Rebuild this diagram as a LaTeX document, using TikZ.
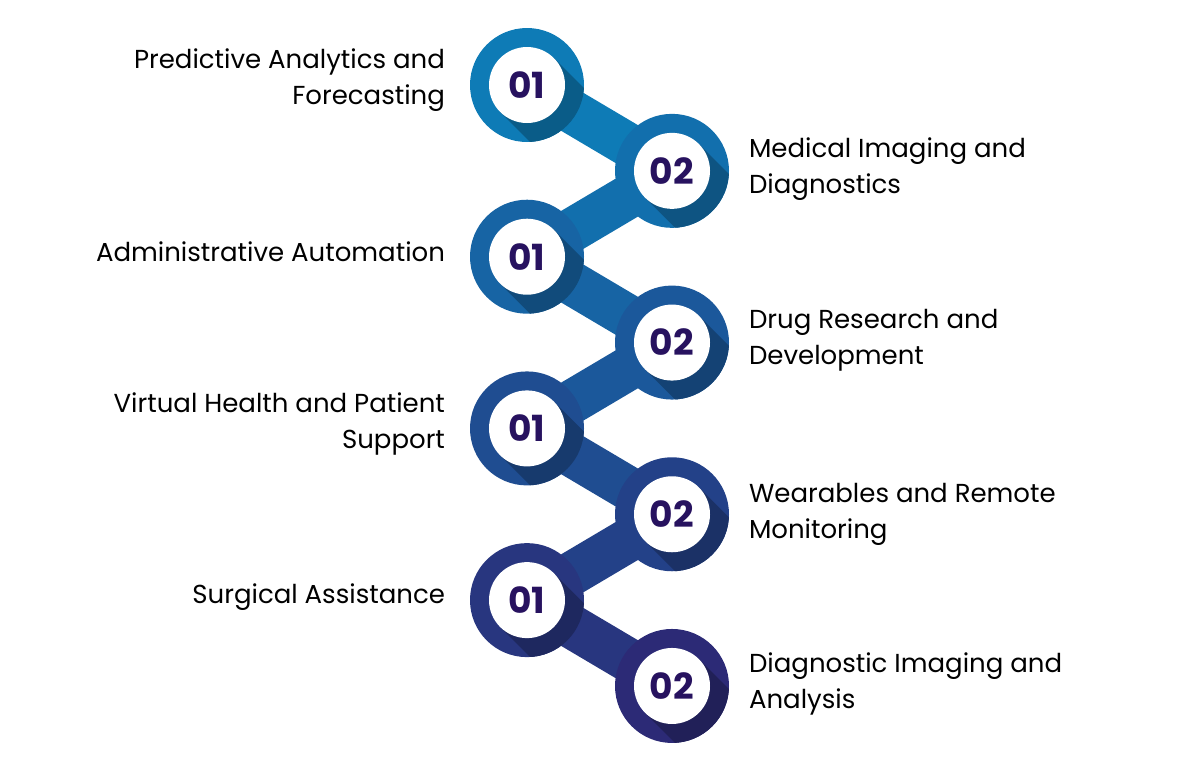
\documentclass[tikz,border=0pt]{standalone}
\usepackage{fontspec}
\setmainfont{Poppins}
\usetikzlibrary{positioning}
\definecolor{topblue}{HTML}{0E7BB6}
\definecolor{lowblue}{HTML}{2C2A76}
\definecolor{numink}{HTML}{27125F}
\tikzset{
  ring/.style={circle,minimum size=57pt,inner sep=0pt},
  disc/.style={circle,fill=white,minimum size=38pt,inner sep=0pt,font=\fontsize{18}{18}\selectfont\bfseries,text=numink},
  lefttext/.style={anchor=east,align=right,font=\fontsize{13}{18}\selectfont},
  righttext/.style={anchor=west,align=left,font=\fontsize{13}{18}\selectfont}
}
\begin{document}
\begin{tikzpicture}[x=0.5pt,y=-0.5pt]
   \useasboundingbox (0,0) rectangle (1200,768);
   % connectors first
   \foreach \i/\j in {1/2,2/3,3/4,4/5,5/6,6/7,7/8}{
     \pgfmathsetmacro{\pa}{(\i-1)*100/7}
     \pgfmathsetmacro{\pb}{(\j-1)*100/7}
     \pgfmathsetmacro{\xa}{mod(\i,2)==1 ? 527 : 672}
     \pgfmathsetmacro{\xb}{mod(\j,2)==1 ? 527 : 672}
     \colorlet{necka}{lowblue!\pa!topblue}
     \colorlet{neckb}{lowblue!\pb!topblue}
     \draw[line width=22pt,left color=necka,right color=neckb,draw=lowblue!\pa!topblue]
       (\xa,{85+(\i-1)*85.85}) -- (\xb,{85+(\j-1)*85.85});
   }
   % rings
   \foreach \i in {1,...,8}{
     \pgfmathsetmacro{\p}{(\i-1)*100/7}
     \pgfmathsetmacro{\xc}{mod(\i,2)==1 ? 527 : 672}
     \pgfmathsetmacro{\yc}{85+(\i-1)*85.85}
     \colorlet{ringcol}{lowblue!\p!topblue}
     \fill[ringcol] (\xc,\yc) circle (57);
     \begin{scope}
       \clip (\xc,\yc) circle (57);
       \fill[ringcol!75!black] (\xc+26.9,\yc-26.9) -- ++(120,120) -- ++(-53.8,53.8) -- (\xc-26.9,\yc+26.9) -- cycle;
     \end{scope}
     \pgfmathtruncatemacro{\num}{2-mod(\i,2)}
     \node[disc] (c\i) at (\xc,\yc) {0\num};
   }
   % labels
   \node[lefttext]  (t1) at (452,80)  {Predictive Analytics and\\Forecasting};
   \node[righttext] (t2) at (742,169) {Medical Imaging and\\Diagnostics};
   \node[lefttext]  (t3) at (452,252) {Administrative Automation};
   \node[righttext] (t4) at (742,340) {Drug Research and\\Development};
   \node[lefttext]  (t5) at (452,424) {Virtual Health and Patient\\Support};
   \node[righttext] (t6) at (742,514) {Wearables and Remote\\Monitoring};
   \node[lefttext]  (t7) at (452,597) {Surgical Assistance};
   \node[righttext] (t8) at (742,684) {Diagnostic Imaging and\\Analysis};
\end{tikzpicture}
\end{document}
